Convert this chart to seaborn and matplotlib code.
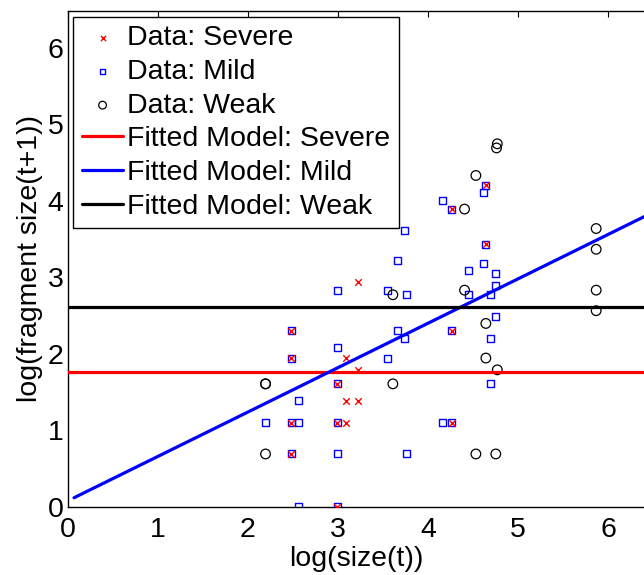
import numpy as np
import pandas as pd
import seaborn as sns
import matplotlib
matplotlib.use("Agg")
import matplotlib.pyplot as plt

# log(size(t)) / log(fragment size(t+1)) observations per damage class
severe_x = [2.485, 2.485, 2.485, 2.485, 2.996, 2.996, 3.091, 2.996, 3.091,
            3.219, 3.219, 3.091, 3.219, 4.644, 4.263, 4.644, 4.263, 4.263]
severe_y = [2.303, 1.946, 1.099, 0.693, 0.000, 1.099, 1.099, 1.609, 1.386,
            1.386, 1.792, 1.946, 2.944, 4.205, 3.892, 3.434, 2.303, 1.099]

mild_x = [2.197, 2.485, 2.485, 2.485, 2.485, 2.565, 2.565, 2.565,
          2.996, 2.996, 2.996, 2.996, 2.996, 2.996, 3.555, 3.555,
          3.664, 3.664, 3.738, 3.738, 3.761, 3.761, 4.159, 4.159,
          4.263, 4.263, 4.263, 4.454, 4.454, 4.615, 4.615, 4.644, 4.644,
          4.700, 4.700, 4.700, 4.754, 4.754, 4.754]
mild_y = [1.099, 2.303, 1.946, 1.099, 0.693, 1.386, 1.099, 0.000,
          0.000, 0.693, 1.099, 1.609, 2.079, 2.833, 2.833, 1.946,
          3.219, 2.303, 3.611, 2.197, 2.773, 0.693, 4.007, 1.099,
          3.892, 2.303, 1.099, 3.091, 2.773, 4.111, 3.178, 4.205, 3.434,
          2.773, 2.197, 1.609, 3.045, 2.890, 2.485]

weak_x = [2.197, 2.197, 2.197, 3.611, 3.611, 4.407, 4.407, 4.533, 4.533,
          4.644, 4.644, 4.771, 4.762, 4.771, 4.754,
          5.869, 5.869, 5.869, 5.869]
weak_y = [1.609, 1.609, 0.693, 2.773, 1.609, 3.892, 2.833, 4.331, 0.693,
          2.398, 1.946, 4.745, 4.691, 1.792, 0.693,
          3.638, 3.367, 2.833, 2.565]

# fitted models: intercept, slope and x-range of each line
fit_names = ["Severe", "Mild", "Weak"]
fit_intercept = [1.76, 0.08, 2.61]
fit_slope = [0.0, 0.58, 0.0]
fit_xrange = [(0.0, 6.5), (0.07, 6.5), (0.0, 6.5)]
fit_colors = ["#ff0000", "#0000ff", "#000000"]

sns.set_theme(style="white")
plt.rcParams["font.family"] = ["Liberation Sans", "DejaVu Sans"]
plt.rcParams["text.color"] = "black"
plt.rcParams["axes.labelcolor"] = "black"
plt.rcParams["xtick.color"] = "black"
plt.rcParams["ytick.color"] = "black"

FS = 20.5

fig = plt.figure(figsize=(6.44, 5.75), dpi=100)
ax = fig.add_axes([67.7 / 644, 68 / 575, (644 - 67.7) / 644, (507 - 11) / 575])

sns.scatterplot(x=mild_x, y=mild_y, ax=ax, marker="s", s=26,
                facecolor="none", edgecolor="#0000ff", linewidth=1.0,
                label="Data: Mild", zorder=3)
sns.scatterplot(x=weak_x, y=weak_y, ax=ax, marker="o", s=48,
                facecolor="none", edgecolor="#000000", linewidth=0.9,
                label="Data: Weak", zorder=3)
sns.scatterplot(x=severe_x, y=severe_y, ax=ax, marker="x", s=22,
                color="#ff0000", linewidth=1.0,
                label="Data: Severe", zorder=4)

for name, b0, b1, (x0, x1), c in zip(fit_names, fit_intercept, fit_slope,
                                     fit_xrange, fit_colors):
    xs = np.array([x0, x1])
    sns.lineplot(x=xs, y=b0 + b1 * xs, ax=ax, color=c, linewidth=2.3,
                 label=f"Fitted Model: {name}", zorder=5)

ax.set_xlim(0, 6.40)
ax.set_ylim(0, 6.48)
ax.set_xticks(range(0, 7))
ax.set_yticks(range(0, 7))
ax.tick_params(direction="in", length=4.5, width=0.8, top=True, right=False,
               labelsize=FS, colors="black")
ax.tick_params(axis="x", pad=7)
ax.tick_params(axis="y", pad=3)
for side in ["left", "bottom", "top"]:
    ax.spines[side].set_color("black")
    ax.spines[side].set_linewidth(1.0)
ax.spines["right"].set_visible(False)

ax.set_xlabel("log(size(t))", fontsize=FS, labelpad=2)
ax.set_ylabel("log(fragment size(t+1))", fontsize=FS, labelpad=3)

handles, labels = ax.get_legend_handles_labels()
order = [labels.index(l) for l in
         ["Data: Severe", "Data: Mild", "Data: Weak",
          "Fitted Model: Severe", "Fitted Model: Mild", "Fitted Model: Weak"]]
leg = ax.legend([handles[i] for i in order], [labels[i] for i in order],
                loc="upper left", fontsize=FS, frameon=True, fancybox=False,
                edgecolor="black", framealpha=1, borderaxespad=0.2,
                handlelength=1.45, handletextpad=0.15, labelspacing=0.27,
                borderpad=0.3, markerscale=0.8)
leg.get_frame().set_linewidth(1.0)
leg.set_zorder(10)

fig.savefig("out.png", dpi=100)
